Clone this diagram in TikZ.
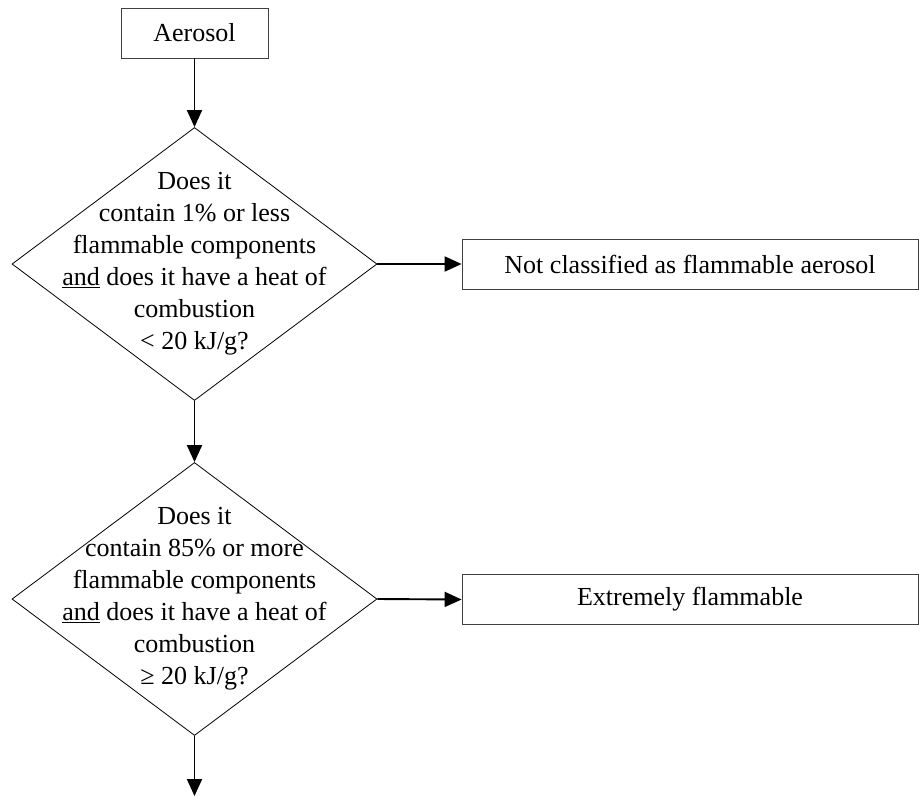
\documentclass[tikz,border=0pt]{standalone}
\usepackage{fontspec}
\setmainfont{Liberation Serif}
\usetikzlibrary{shapes.geometric,arrows.meta}
\begin{document}
\begin{tikzpicture}[x=1pt,y=-1pt,
  box/.style={draw=black!75, line width=0.8pt, minimum height=50pt, inner sep=0pt},
  dia/.style={diamond, draw, line width=0.8pt, minimum width=365pt, minimum height=273pt, inner sep=0pt},
  qtext/.style={align=center, inner sep=0pt},
  arr/.style={line width=1.9pt, -{Triangle[length=17pt,width=15pt]}},
  font=\fontsize{26}{32}\selectfont]
\useasboundingbox (0,0) rectangle (919,796);
\node[box, minimum width=147pt] (aer) at (194.5,33) {Aerosol};
\node[dia] (d1) at (194.5,264) {};
\node[qtext] (q1) at (194.5,264) {Does it\\contain 1\% or less\\flammable components\\\underline{and} does it have a heat of\\combustion\\< 20 kJ/g?};
\node[box, minimum width=456pt] (n1) at (690,264) {Not classified as flammable aerosol};
\node[dia] (d2) at (194.5,599) {};
\node[qtext] (q2) at (194.5,599) {Does it\\contain 85\% or more\\flammable components\\\underline{and} does it have a heat of\\combustion\\≥ 20 kJ/g?};
\node[box, minimum width=456pt] (n2) at (690,599.5) {Extremely flammable};
\coordinate (end) at (194.5,796);
\draw[arr] (aer.south) -- (d1.north);
\draw[arr] (d1.east) -- (n1.west);
\draw[arr] (d1.south) -- (d2.north);
\draw[arr] (d2.east) -- (n2.west);
\draw[arr] (d2.south) -- (end);
\end{tikzpicture}
\end{document}
